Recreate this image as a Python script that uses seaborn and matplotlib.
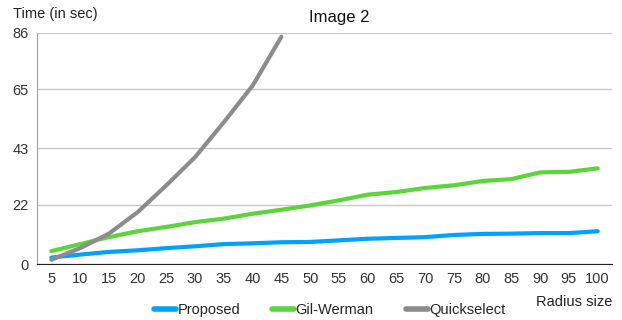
import pandas as pd
import numpy as np
import matplotlib
matplotlib.use("Agg")
import matplotlib.pyplot as plt
import seaborn as sns

# Data
radius = [5, 10, 15, 20, 25, 30, 35, 40, 45, 50, 55, 60, 65, 70, 75, 80, 85, 90, 95, 100]
proposed = [2.4, 3.5, 4.5, 5.1, 5.9, 6.6, 7.4, 7.7, 8.1, 8.2, 8.8, 9.4, 9.7, 10.0, 10.8, 11.2, 11.3, 11.5, 11.5, 12.2]
gil_werman = [4.8, 7.4, 10.0, 12.2, 13.8, 15.6, 16.9, 18.7, 20.2, 21.8, 23.7, 25.8, 26.8, 28.3, 29.3, 30.9, 31.6, 34.1, 34.3, 35.6]
quickselect = [1.6, 5.9, 11.3, 19.3, 29.3, 39.8, 52.8, 66.4, 84.6]
y_ticks = [0, 22, 43, 65, 86]

colors = {"Proposed": "#00A2FF", "Gil-Werman": "#5CD43C", "Quickselect": "#8C8C8C"}

# long-form table
frames = []
for name, vals in [("Proposed", proposed), ("Gil-Werman", gil_werman), ("Quickselect", quickselect)]:
    frames.append(pd.DataFrame({"radius": [str(r) for r in radius[:len(vals)]],
                                "time": vals, "method": name}))
df = pd.concat(frames, ignore_index=True)

sns.set_style("white")
plt.rcParams['font.family'] = ['Liberation Sans', 'DejaVu Sans']

fig = plt.figure(figsize=(6.22, 3.2), dpi=100)
ax = fig.add_axes([0.0595, 0.175, 0.9245, 0.722])

sns.lineplot(data=df, x="radius", y="time", hue="method", palette=colors,
             linewidth=3, sort=False, ax=ax, legend=False)

ax.set_xlim(-0.5, len(radius) - 0.5)
ax.set_ylim(0, 86)
ax.set_yticks(y_ticks)
ax.yaxis.grid(True, color="#C8C8C8", linewidth=1)
ax.set_axisbelow(True)
ax.tick_params(axis="both", length=0, labelsize=10.5, colors="#333333", pad=6)
ax.tick_params(axis="x", pad=6)
ax.set_xlabel("")
ax.set_ylabel("")
for s in ["top", "right"]:
    ax.spines[s].set_visible(False)
ax.spines["left"].set_color("#A0A0A0")
ax.spines["bottom"].set_color("#222222")

fig.text(0.021, 0.955, "Time (in sec)", fontsize=10.5, color="#222222", va="center")
fig.text(0.545, 0.945, "Image 2", fontsize=12, color="#111111", ha="center", va="center")
fig.text(0.984, 0.055, "Radius size", fontsize=10.5, color="#222222", ha="right", va="center")

handles = [plt.Line2D([0], [0], color=c, linewidth=4) for c in colors.values()]
fig.legend(handles, list(colors.keys()), loc="center", bbox_to_anchor=(0.53, 0.03),
           ncol=3, frameon=False, fontsize=10.5, handlelength=1.5, handletextpad=0.1,
           columnspacing=2.2)

fig.savefig("out.png", dpi=100)
